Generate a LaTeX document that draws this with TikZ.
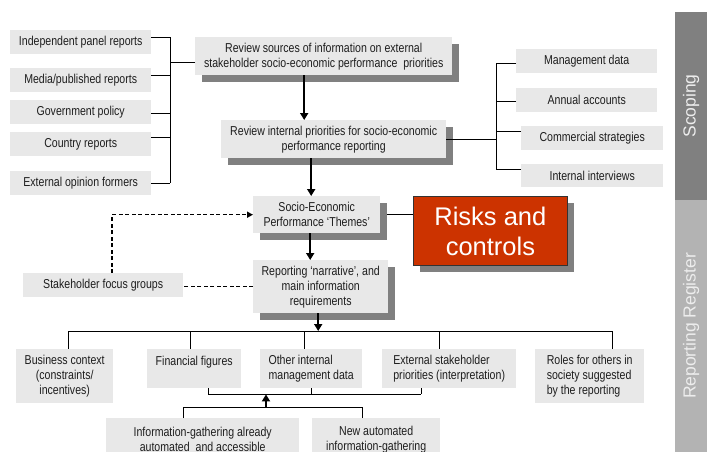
\documentclass[tikz,border=0pt]{standalone}
\usepackage{fontspec}
\setmainfont{Liberation Sans}[FakeStretch=0.82]
\newfontfamily\plainsans{Liberation Sans}
\usetikzlibrary{arrows.meta,shadows,calc}

\definecolor{boxgray}{HTML}{E8E8E8}
\definecolor{shadegray}{HTML}{808080}
\definecolor{inkgray}{HTML}{1E1E1E}
\definecolor{riskred}{HTML}{CC3300}
\definecolor{barDark}{HTML}{808080}
\definecolor{barLight}{HTML}{B3B3B3}
\definecolor{barText}{HTML}{EDEDED}

\begin{document}
\begin{tikzpicture}[x=1pt,y=-1pt,
  boxtext/.style={font=\fontsize{12.9}{15}\selectfont, text=inkgray},
  gbox/.style={boxtext, fill=boxgray, inner sep=0pt, align=center, anchor=north west},
  sbox/.style={gbox, drop shadow={shadow xshift=7pt, shadow yshift=-7pt, fill=shadegray, opacity=1}},
  lbox/.style={gbox, align=left},
  conn/.style={draw=black, line width=0.9pt},
  arr/.style={draw=black, line width=2pt, -{Triangle[length=7pt,width=8pt]}},
  dashline/.style={draw=black, line width=1.5pt, dash pattern=on 4pt off 2.5pt},
  sidetext/.style={rotate=90, text=barText, font=\plainsans\fontsize{17.5}{20}\selectfont}
]
\useasboundingbox (0,0) rectangle (707,452);

% side bar with the two phases
\fill[barDark] (675,12) rectangle (707,200);
\fill[barLight] (675,200) rectangle (707,460);
\node[sidetext] (scope) at (691,106) {Scoping};
\node[sidetext] (register) at (691,326) {Reporting Register};

% external sources
\node[gbox, minimum width=141pt, minimum height=24pt] (ind) at (10,30) {Independent panel reports};
\node[gbox, minimum width=141pt, minimum height=24pt] (med) at (10,68) {Media/published reports};
\node[gbox, minimum width=141pt, minimum height=24pt] (gov) at (10,100) {Government policy};
\node[gbox, minimum width=141pt, minimum height=24pt] (cty) at (10,132) {Country reports};
\node[gbox, minimum width=141pt, minimum height=24pt] (ext) at (10,171) {External opinion formers};

% internal sources
\node[gbox, minimum width=141pt, minimum height=24pt] (mgmt) at (516,49) {Management data};
\node[gbox, minimum width=141pt, minimum height=24pt] (ann) at (516,88) {Annual accounts};
\node[gbox, minimum width=142pt, minimum height=24pt] (com) at (521,126) {Commercial strategies};
\node[gbox, minimum width=142pt, minimum height=23pt] (intv) at (521,164) {Internal interviews};

% main process column
\node[sbox, minimum width=257pt, minimum height=38pt] (top) at (195,37)
  {Review sources of information on external\\stakeholder socio-economic performance\ \ priorities};
\node[sbox, minimum width=225pt, minimum height=38pt] (mid) at (221,120)
  {Review internal priorities for socio-economic\\performance reporting};
\node[sbox, minimum width=127pt, minimum height=37pt] (themes) at (253,196)
  {Socio-Economic\\Performance ‘Themes’};
\node[sbox, minimum width=135pt, minimum height=53pt] (report) at (253,260)
  {Reporting ‘narrative’, and\\main information\\requirements};
\node[anchor=north west, fill=riskred, draw=black!80, line width=0.8pt, inner sep=0pt,
  minimum width=154pt, minimum height=69pt, text=white, align=center,
  font=\plainsans\fontsize{25.5}{30}\selectfont,
  drop shadow={shadow xshift=7pt, shadow yshift=-7pt, fill=shadegray, opacity=1}]
  (risks) at (413,196) {Risks and\\controls};
\node[gbox, minimum width=160pt, minimum height=24pt] (stake) at (23,273) {Stakeholder focus groups};

% information requirements
\node[gbox, minimum width=97pt, minimum height=54pt] (biz) at (16,349)
  {Business context\\(constraints/\\incentives)};
\node[gbox, minimum width=94pt, minimum height=39pt] (fin) at (147,349)
  {Financial figures\\\mbox{}};
\node[lbox, minimum width=102pt, minimum height=39pt] (oth) at (260,349)
  {Other internal\\management data};
\node[lbox, minimum width=134pt, minimum height=39pt] (exs) at (382,349)
  {External stakeholder\\priorities (interpretation)};
\node[lbox, minimum width=109pt, minimum height=54pt] (rol) at (535,349)
  {Roles for others in\\society suggested\\by the reporting};

% information gathering
\node[gbox, minimum width=193pt, minimum height=43pt] (iga) at (106,418)
  {Information-gathering already\\automated\ \ and accessible};
\node[gbox, minimum width=128pt, minimum height=43pt] (nag) at (312,418)
  {New automated\\information-gathering};

% external sources feed the first review
\draw[conn] ([yshift=5pt]ind.east) -- ++(19,0) coordinate (l1);
\draw[conn] ([yshift=5pt]med.east) -- ++(19,0) coordinate (l2);
\draw[conn] ([yshift=-1pt]gov.east) -- ++(19,0) coordinate (l3);
\draw[conn] ([yshift=7pt]cty.east) -- ++(19,0) coordinate (l4);
\draw[conn] (ext.east) -- ++(19,0) coordinate (l5);
\draw[conn] (l1) -- (l5);
\draw[conn] ([yshift=-6pt]top.west) coordinate (t0) -- (t0 -| l1);

% internal sources feed the second review
\draw[conn] ([yshift=-2pt]mgmt.west) -- ++(-20,0) coordinate (r1);
\draw[conn] ([yshift=-1pt]ann.west) -- ++(-20,0) coordinate (r2);
\draw[conn] ([yshift=7pt]com.west) -- ++(-25,0) coordinate (r3);
\draw[conn] ([yshift=6.5pt]intv.west) -- ++(-25,0) coordinate (r4);
\draw[conn] (r1) -- (r4);
\draw[conn] (mid.east) -- (mid.east -| r1);

% main flow
\draw[arr] ([xshift=-19.5pt]top.south) coordinate (a1) -- (a1 |- mid.north);
\draw[arr] ([xshift=-22.5pt]mid.south) coordinate (a2) -- (a2 |- themes.north);
\draw[arr] ([xshift=-6.5pt]themes.south) coordinate (a3) -- (a3 |- report.north);
\draw[conn] ([xshift=7pt]themes.east) -- (themes.east -| risks.west);

% stakeholder focus groups
\draw[dashline] (report.west) -- (report.west -| stake.east);
\draw[dashline, -{Triangle[length=6pt,width=6pt]}] ([xshift=9pt]stake.north) |- (themes.west);

% distribution to the information requirements
\coordinate (b1) at (68,331);
\coordinate (b2) at (190,331);
\coordinate (b3) at (304,331);
\coordinate (b4) at (439,331);
\coordinate (b5) at (612,331);
\draw[conn] (b1) -- (b5);
\draw[conn] (b1) -- (b1 |- biz.north);
\draw[conn] (b2) -- (b2 |- fin.north);
\draw[conn] (b3) -- (b3 |- oth.north);
\draw[conn] (b4) -- (b4 |- exs.north);
\draw[conn] (b5) -- (b5 |- rol.north);
\draw[arr] ([xshift=-2.5pt]report.south) coordinate (a4) -- (a4 |- b1);

% information gathering supplies the figures
\draw[conn] ([xshift=14pt]fin.south) -- ++(0,6) coordinate (c1);
\draw[conn] (oth.south) -- ++(0,6);
\draw[conn] ([xshift=-28pt]exs.south) -- ++(0,6) coordinate (c3);
\draw[conn] (c1) -- (c3);
\draw[conn] ([xshift=-19.5pt]iga.north) -- ++(0,-11) coordinate (d1);
\draw[conn] ([xshift=-14pt]nag.north) -- ++(0,-11) coordinate (d2);
\draw[conn] (d1) -- (d2);
\coordinate (ux) at (266,0);
\draw[arr] (d1 -| ux) -- (c1 -| ux);
\end{tikzpicture}
\end{document}
